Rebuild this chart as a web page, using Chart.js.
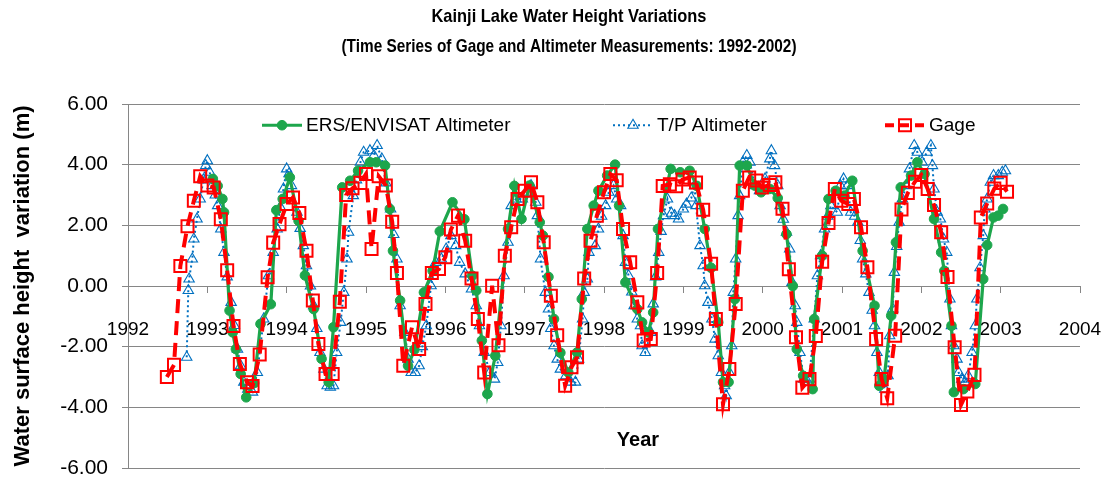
<!DOCTYPE html>
<html>
<head>
<meta charset="utf-8">
<title>Kainji Lake Water Height Variations</title>
<script src="https://cdn.jsdelivr.net/npm/chart.js@4.4.0/dist/chart.umd.min.js"></script>
<style>
  html, body { margin: 0; padding: 0; background: #fff; }
</style>
</head>
<body>
<canvas id="lake-chart" width="1107" height="480"></canvas>
<script>
// Axis ticks
const yearTicks = [1992, 1993, 1994, 1995, 1996, 1997, 1998, 1999, 2000, 2001, 2002, 2003, 2004];
const heightTicks = [-6, -4, -2, 0, 2, 4, 6];

// ERS/ENVISAT altimeter (35-day passes)
const ersYears = [
  1993.07, 1993.13, 1993.19, 1993.21, 1993.28, 1993.32, 1993.36, 1993.42, 1993.49, 1993.59, 1993.67, 1993.80, 1993.87, 1993.95,
  1994.04, 1994.15, 1994.23, 1994.34, 1994.44, 1994.53, 1994.59, 1994.70, 1994.80, 1994.90,
  1995.05, 1995.13, 1995.24, 1995.30, 1995.34, 1995.43, 1995.53, 1995.61, 1995.73, 1995.84, 1995.93,
  1996.09, 1996.24, 1996.34, 1996.39, 1996.46, 1996.53, 1996.63, 1996.79, 1996.87, 1996.96,
  1997.06, 1997.19, 1997.23, 1997.30, 1997.37, 1997.45, 1997.55, 1997.66, 1997.72, 1997.79, 1997.87, 1997.93,
  1998.04, 1998.14, 1998.19, 1998.27, 1998.42, 1998.48, 1998.56, 1998.62, 1998.68, 1998.84, 1998.96,
  1999.08, 1999.17, 1999.27, 1999.35, 1999.44, 1999.50, 1999.57, 1999.65, 1999.71, 1999.80, 1999.90, 1999.98,
  2000.09, 2000.19, 2000.30, 2000.38, 2000.43, 2000.51, 2000.63, 2000.65, 2000.75, 2000.83, 2000.92,
  2001.03, 2001.13, 2001.26, 2001.41, 2001.47, 2001.53, 2001.62, 2001.68, 2001.74, 2001.87, 2001.95,
  2002.04, 2002.16, 2002.25, 2002.29, 2002.38, 2002.41, 2002.53, 2002.68, 2002.78, 2002.83, 2002.91, 2002.97,
  2003.03
];
const ersValues = [
  3.53, 3.30, 2.87, 2.43, -0.81, -1.53, -2.08, -2.90, -3.67, -3.20, -1.25, -0.60, 2.50, 2.87,
  3.58, 2.15, 0.35, -0.76, -2.40, -3.17, -1.36, 3.25, 3.47, 3.80,
  4.08, 4.08, 3.97, 2.54, 1.16, -0.48, -2.63, -2.10, -0.21, 0.50, 1.80,
  2.76, 2.20, 0.34, -0.15, -1.80, -3.56, -2.30, 1.88, 3.30, 2.21,
  3.31, 2.10, 1.66, 0.30, -1.09, -2.20, -2.85, -2.19, -0.43, 1.88, 2.65, 3.14,
  3.64, 4.00, 2.65, 0.12, -0.76, -1.20, -1.53, -0.87, 1.88, 3.86, 3.75,
  3.80, 3.30, 1.88, 0.60, -1.20, -3.17, -3.17, -0.43, 3.97, 3.97, 3.31, 3.09,
  3.20, 2.90, 1.71, 0.00, -2.08, -2.96, -3.40, -1.09, 1.00, 2.87, 3.14,
  2.98, 3.47, 1.16, -0.65, -3.29, -3.07, -0.98, 1.44, 3.25, 3.64, 4.08,
  3.69, 2.21, 1.11, 0.50, -1.31, -3.50, -3.40, -3.23, 0.23, 1.35, 2.26, 2.32,
  2.54
];

// T/P altimeter (10-day passes)
const tpYears = [
  1992.74, 1992.76, 1992.77, 1992.81, 1992.83, 1992.87, 1992.91, 1992.95, 1992.98,
  1993.00, 1993.03, 1993.06, 1993.10, 1993.13, 1993.17, 1993.21, 1993.25, 1993.30, 1993.34, 1993.38, 1993.42, 1993.46,
  1993.51, 1993.57, 1993.63, 1993.71, 1993.77, 1993.83, 1993.88, 1993.92, 1993.96,
  1994.00, 1994.03, 1994.06, 1994.13, 1994.17, 1994.21, 1994.25, 1994.30, 1994.34, 1994.38, 1994.42, 1994.47,
  1994.51, 1994.55, 1994.59, 1994.63, 1994.68, 1994.72, 1994.76, 1994.78, 1994.84, 1994.88, 1994.93, 1994.97,
  1995.05, 1995.10, 1995.14, 1995.20, 1995.25, 1995.31, 1995.35, 1995.39, 1995.43, 1995.49, 1995.53, 1995.57,
  1995.62, 1995.67, 1995.71, 1995.76, 1995.82, 1995.88, 1995.95,
  1996.01, 1996.07, 1996.13, 1996.18, 1996.25, 1996.33, 1996.39, 1996.43, 1996.49, 1996.56, 1996.62, 1996.66,
  1996.70, 1996.74, 1996.79, 1996.83, 1996.89, 1996.97,
  1997.04, 1997.08, 1997.14, 1997.16, 1997.20, 1997.26, 1997.30, 1997.33, 1997.37, 1997.41, 1997.45, 1997.52,
  1997.58, 1997.64, 1997.68, 1997.73, 1997.75, 1997.79, 1997.81, 1997.89, 1997.93, 1997.97,
  1998.02, 1998.06, 1998.12, 1998.16, 1998.21, 1998.24, 1998.27, 1998.31, 1998.35, 1998.38, 1998.42, 1998.46,
  1998.48, 1998.52, 1998.59, 1998.62, 1998.65, 1998.69, 1998.72, 1998.75, 1998.80, 1998.85, 1998.89, 1998.94,
  1999.00, 1999.04, 1999.10, 1999.14, 1999.16, 1999.21, 1999.25, 1999.27, 1999.31, 1999.36, 1999.40, 1999.44,
  1999.48, 1999.52, 1999.54, 1999.58, 1999.61, 1999.63, 1999.66, 1999.69, 1999.71, 1999.75, 1999.80, 1999.84,
  1999.90, 1999.96,
  2000.03, 2000.09, 2000.11, 2000.15, 2000.19, 2000.22, 2000.26, 2000.30, 2000.34, 2000.37, 2000.41, 2000.43,
  2000.47, 2000.52, 2000.57, 2000.59, 2000.65, 2000.69, 2000.73, 2000.78, 2000.82, 2000.86, 2000.94, 2000.98,
  2001.02, 2001.07, 2001.11, 2001.16, 2001.20, 2001.23, 2001.26, 2001.30, 2001.34, 2001.38, 2001.41, 2001.44,
  2001.47, 2001.51, 2001.54, 2001.58, 2001.60, 2001.64, 2001.66, 2001.69, 2001.72, 2001.76, 2001.81, 2001.85,
  2001.91, 2001.95,
  2002.01, 2002.07, 2002.12, 2002.14, 2002.16, 2002.20, 2002.24, 2002.28, 2002.32, 2002.36, 2002.38, 2002.41,
  2002.45, 2002.47, 2002.51, 2002.55, 2002.59, 2002.64, 2002.68, 2002.70, 2002.74, 2002.78, 2002.80, 2002.83,
  2002.87, 2002.91, 2002.97,
  2003.02, 2003.06
];
const tpValues = [
  -2.35, -0.15, 0.23, 0.89, 1.55, 2.21, 2.87, 3.50, 3.97,
  4.13, 3.75, 3.31, 3.00, 2.65, 1.88, 1.11, 0.30, -0.54, -1.30, -2.08, -2.63, -3.17,
  -3.40, -3.50, -2.85, -1.09, 0.34, 1.11, 1.88, 2.60, 3.20,
  3.86, 3.70, 3.31, 2.43, 1.90, 1.33, 0.67, 0.00, -0.65, -1.40, -2.19, -2.74,
  -3.29, -3.34, -3.29, -2.19, -1.20, -0.21, 0.89, 1.77, 2.98, 3.50, 4.08, 4.41,
  4.46, 4.30, 4.63, 4.19, 3.40, 2.54, 1.70, 0.89, -0.65, -1.53, -2.41, -2.85,
  -2.85, -2.63, -2.00, -1.31, 0.01, 0.78, 0.89,
  1.22, 1.66, 1.33, 0.78, 0.40, -0.10, -0.65, -1.31, -2.19, -2.85, -3.07, -2.52,
  -1.31, 0.34, 1.44, 2.65, 2.87, 2.87,
  3.09, 3.31, 2.76, 2.32, 0.89, -0.21, -0.76, -1.40, -1.97, -2.41, -2.74, -2.96,
  -3.17, -3.17, -2.41, -1.09, -0.21, 0.23, 1.11, 1.33, 1.88, 2.30,
  2.65, 3.09, 3.31, 2.87, 2.65, 1.66, 0.78, 0.34, -0.20, -0.65, -1.09, -1.31,
  -1.97, -2.19, -1.53, -0.59, 0.30, 1.11, 1.80, 2.32, 2.87, 2.40, 2.32, 2.21,
  2.54, 2.70, 2.90, 3.31, 2.65, 1.33, 0.67, 0.01, -0.54, -1.09, -1.75, -2.30,
  -2.85, -3.29, -3.62, -2.85, -1.97, -0.21, 0.89, 2.32, 2.98, 4.08, 4.30, 4.08,
  3.31, 3.14,
  3.53, 4.19, 4.46, 3.97, 3.31, 2.65, 2.20, 1.77, 1.22, 0.12, -0.65, -1.20,
  -2.19, -3.07, -3.17, -3.07, -1.09, 0.34, 1.00, 1.88, 2.30, 2.65, 2.43, 3.31,
  3.53, 3.31, 2.43, 2.30, 2.10, 1.50, 0.89, 0.40, -0.21, -0.80, -1.31, -2.19,
  -2.85, -3.17, -3.40, -2.96, -1.64, -0.76, 0.45, 1.30, 2.10, 2.87, 3.31, 3.86,
  4.63, 4.41,
  4.08, 4.41, 4.63, 3.97, 3.20, 2.43, 2.21, 1.55, 1.11, -0.43, -1.31, -1.97,
  -2.41, -2.85, -3.07, -3.17, -2.96, -2.19, -1.31, -0.43, 0.60, 1.66, 2.54, 2.87,
  3.42, 3.64, 3.64,
  3.75, 3.80
];

// Gage (monthly)
const gageYears = [
  1992.49, 1992.58, 1992.66, 1992.75, 1992.83, 1992.91,
  1993.00, 1993.08, 1993.17, 1993.25, 1993.33, 1993.41, 1993.50, 1993.57, 1993.66, 1993.76, 1993.83, 1993.91,
  1994.00, 1994.08, 1994.16, 1994.25, 1994.33, 1994.40, 1994.49, 1994.58, 1994.67, 1994.75, 1994.83, 1994.93,
  1995.00, 1995.07, 1995.16, 1995.25, 1995.33, 1995.39, 1995.47, 1995.58, 1995.67, 1995.75, 1995.83, 1995.92,
  1996.00, 1996.07, 1996.16, 1996.25, 1996.33, 1996.41, 1996.49, 1996.59, 1996.67, 1996.75, 1996.83, 1996.91,
  1997.00, 1997.08, 1997.16, 1997.24, 1997.33, 1997.41, 1997.51, 1997.59, 1997.66, 1997.75, 1997.83, 1997.91,
  1998.00, 1998.08, 1998.16, 1998.24, 1998.33, 1998.42, 1998.50, 1998.59, 1998.67, 1998.74, 1998.83, 1998.91, 1998.99,
  1999.08, 1999.16, 1999.25, 1999.35, 1999.41, 1999.50, 1999.58, 1999.66, 1999.75, 1999.83, 1999.92, 1999.99,
  2000.09, 2000.16, 2000.25, 2000.33, 2000.42, 2000.50, 2000.59, 2000.67, 2000.75, 2000.83, 2000.91, 2000.99,
  2001.08, 2001.15, 2001.24, 2001.32, 2001.43, 2001.50, 2001.57, 2001.67, 2001.75, 2001.83, 2001.92,
  2002.00, 2002.08, 2002.16, 2002.25, 2002.33, 2002.42, 2002.50, 2002.58, 2002.67, 2002.75, 2002.83, 2002.92,
  2003.00, 2003.08
];
const gageValues = [
  -3.00, -2.60, 0.66, 1.97, 2.81, 3.62,
  3.31, 3.25, 2.20, 0.52, -1.32, -2.57, -3.17, -3.30, -2.26, 0.29, 1.43, 2.04,
  2.70, 2.92, 2.41, 1.16, -0.48, -1.91, -2.90, -2.90, -0.52, 3.00, 3.22, 3.40,
  3.69, 1.22, 3.62, 3.31, 2.12, 0.43, -2.63, -1.36, -2.08, -0.59, 0.43, 0.56,
  0.95, 1.86, 2.32, 1.49, 0.25, -1.09, -2.85, 0.01, -1.95, 1.00, 1.94, 2.87,
  3.14, 3.42, 2.76, 1.44, -0.32, -1.62, -3.29, -2.68, -2.35, 0.25, 1.49, 2.32,
  3.09, 3.69, 3.49, 1.88, 0.78, -0.54, -1.80, -1.75, 0.43, 3.30, 3.35, 3.29, 3.51,
  3.58, 3.41, 2.51, 0.73, -1.09, -3.90, -2.74, -0.59, 3.14, 3.58, 3.48, 3.25,
  3.33, 3.42, 2.55, 0.55, -1.69, -3.35, -3.07, -1.65, 0.80, 2.08, 3.20, 2.81,
  2.70, 2.87, 1.94, 0.62, -1.75, -3.07, -3.70, -1.64, 2.52, 3.07, 3.44,
  3.66, 3.20, 2.67, 1.77, 0.30, -2.02, -3.92, -3.48, -2.93, 2.26, 2.72, 3.21,
  3.40, 3.11
];

const titleLines = ['Kainji Lake Water Height Variations', '(Time Series of Gage and Altimeter Measurements: 1992-2002)'];

const GREEN = '#1DA64C';
const BLUE = '#0070C0';
const RED = '#FF0000';
const FONT = '"Liberation Sans", Arial, sans-serif';

function toPoints(xs, ys) {
  return xs.map((x, i) => ({ x, y: ys[i] }));
}

function drawMarker(ctx, style, x, y, r) {
  ctx.beginPath();
  if (style === 'circle') {
    ctx.arc(x, y, r, 0, Math.PI * 2);
  } else if (style === 'triangle') {
    ctx.moveTo(x, y - r);
    ctx.lineTo(x + 0.866 * r, y + 0.5 * r);
    ctx.lineTo(x - 0.866 * r, y + 0.5 * r);
    ctx.closePath();
  } else {
    const s = r * Math.SQRT1_2;
    ctx.rect(x - s, y - s, 2 * s, 2 * s);
  }
}

// Drop the label overhang padding so the plot box lands where the original has it
function noPadding(s) {
  s.paddingLeft = 0;
  s.paddingRight = 0;
  s.paddingTop = 0;
  s.paddingBottom = 0;
}

// Legend sits inside the plot in the original, so draw it by hand
const legendSlots = [
  { index: 0, left: 262 },
  { index: 1, left: 613 },
  { index: 2, left: 885 }
];

// Title is a condensed bold face; squeeze Liberation Sans Bold to the same widths
const titleSlots = [
  { y: 17, width: 275 },
  { y: 47, width: 455 }
];

const chartText = {
  id: 'chartText',
  afterDraw(chart) {
    const ctx = chart.ctx;

    titleLines.forEach((line, i) => {
      const slot = titleSlots[i];
      ctx.save();
      ctx.font = 'bold 19px ' + FONT;
      ctx.fillStyle = '#000';
      ctx.textAlign = 'center';
      ctx.textBaseline = 'middle';
      const w = ctx.measureText(line).width;
      ctx.translate(569, slot.y);
      ctx.scale(slot.width / w, 1);
      ctx.fillText(line, 0, 0);
      ctx.restore();
    });

    const y = chart.scales.y.getPixelForValue(5.3);
    legendSlots.forEach(slot => {
      const ds = chart.data.datasets[slot.index];
      const x0 = slot.left, x1 = slot.left + 40, mid = (x0 + x1) / 2;
      ctx.save();
      ctx.strokeStyle = ds.borderColor;
      ctx.lineWidth = ds.borderWidth;
      ctx.setLineDash(ds.legendDash || ds.borderDash || []);
      ctx.beginPath();
      ctx.moveTo(x0, y);
      ctx.lineTo(x1, y);
      ctx.stroke();
      ctx.setLineDash([]);
      drawMarker(ctx, ds.pointStyle, mid, y, ds.pointRadius);
      ctx.fillStyle = ds.pointBackgroundColor;
      ctx.fill();
      ctx.lineWidth = ds.pointBorderWidth;
      ctx.strokeStyle = ds.pointBorderColor;
      ctx.stroke();
      ctx.fillStyle = '#000';
      ctx.font = '19px ' + FONT;
      ctx.textBaseline = 'middle';
      ctx.textAlign = 'left';
      ctx.fillText(ds.label, x1 + 4, y + 1);
      ctx.restore();
    });

    // x axis title sits near the bottom of the plot
    ctx.save();
    ctx.font = 'bold 20px ' + FONT;
    ctx.fillStyle = '#000';
    ctx.textAlign = 'center';
    ctx.textBaseline = 'middle';
    ctx.fillText('Year', 638, 440);
    ctx.restore();
  }
};

new Chart(document.getElementById('lake-chart'), {
  type: 'scatter',
  data: {
    datasets: [
      {
        label: 'ERS/ENVISAT Altimeter',
        data: toPoints(ersYears, ersValues),
        showLine: true,
        borderColor: GREEN,
        borderWidth: 3.2,
        pointStyle: 'circle',
        pointRadius: 4.8,
        pointBackgroundColor: GREEN,
        pointBorderColor: GREEN,
        pointBorderWidth: 1,
        order: 2
      },
      {
        label: 'T/P Altimeter',
        data: toPoints(tpYears, tpValues),
        showLine: true,
        borderColor: BLUE,
        borderWidth: 2,
        borderDash: [2, 3],
        pointStyle: 'triangle',
        pointRadius: 6,
        pointBackgroundColor: 'rgba(255,255,255,0)',
        pointBorderColor: BLUE,
        pointBorderWidth: 1.1,
        order: 3
      },
      {
        label: 'Gage',
        data: toPoints(gageYears, gageValues),
        showLine: true,
        borderColor: RED,
        borderWidth: 4,
        borderDash: [14, 8],
        legendDash: [9, 6],
        pointStyle: 'rect',
        pointRadius: 8.5,
        pointBackgroundColor: 'rgba(255,255,255,0)',
        pointBorderColor: RED,
        pointBorderWidth: 2,
        order: 1
      }
    ]
  },
  options: {
    responsive: false,
    animation: false,
    layout: { padding: { left: 8, right: 27, top: 104, bottom: 12 } },
    plugins: {
      legend: { display: false },
      tooltip: { enabled: false },
      title: { display: false }
    },
    scales: {
      x: {
        type: 'linear',
        position: { y: 0 },
        min: 1992,
        max: 2004,
        afterBuildTicks: s => { s.ticks = yearTicks.map(v => ({ value: v })); },
        afterFit: noPadding,
        grid: { drawOnChartArea: false, drawTicks: true, tickLength: 6, color: '#868686' },
        border: { color: '#868686', width: 1 },
        ticks: { color: '#000', font: { family: FONT, size: 19 }, padding: 26, callback: v => String(v), maxRotation: 0 }
      },
      y: {
        min: -6,
        max: 6,
        afterBuildTicks: s => { s.ticks = heightTicks.map(v => ({ value: v })); },
        afterFit: s => { s.width = 120; noPadding(s); },
        grid: { color: '#868686', tickLength: 6 },
        border: { color: '#868686', width: 1 },
        ticks: { color: '#000', font: { family: FONT, size: 21 }, padding: 14, callback: v => v.toFixed(2) },
        title: {
          display: true,
          text: 'Water surface height  variation (m)',
          color: '#000',
          font: { family: FONT, size: 22, weight: 'bold' },
          padding: { top: 2, bottom: 0 }
        }
      }
    }
  },
  plugins: [chartText]
});
</script>
</body>
</html>
